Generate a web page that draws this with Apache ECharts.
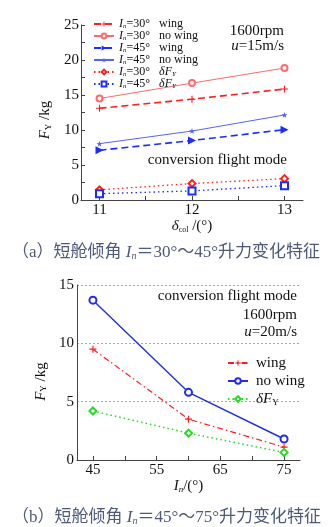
<!DOCTYPE html>
<html><head><meta charset="utf-8">
<script src="https://cdn.jsdelivr.net/npm/echarts@6/dist/echarts.min.js"></script>
<style>html,body{margin:0;padding:0;background:#fff}#c{width:331px;height:527px}</style>
</head><body><div id="c"></div>
<script>
// ---- chart (a) data ----
const deltaCol = [11, 12, 13];
const in30Wing = [13.1, 14.4, 15.85];
const in30NoWing = [14.5, 16.7, 18.85];
const in45Wing = [7.1, 8.5, 10.05];
const in45NoWing = [8.05, 9.85, 12.15];
const in30Delta = [1.45, 2.35, 3.05];
const in45Delta = [0.9, 1.3, 2.05];
const aXLabels = [11, 12, 13];
const aXTicks = [11, 11.5, 12, 12.5, 13];
const aYTicks = [0, 2.5, 5, 7.5, 10, 12.5, 15, 17.5, 20, 22.5, 25];

// ---- chart (b) data ----
const inAngle = [45, 60, 75];
const bWing = [9.5, 3.5, 1.1];
const bNoWing = [13.7, 5.8, 1.8];
const bDelta = [4.2, 2.3, 0.65];
const bXLabels = [45, 55, 65, 75];
const bXTicks = [45, 50, 55, 60, 65, 70, 75];

const SERIF = '"Liberation Serif","Times New Roman",serif';
const CAPF = '"Liberation Serif","Noto Sans CJK SC",serif';
const pair = (xs, ys) => xs.map((x, i) => [x, ys[i]]);
const PLUS = 'path://M0,4.2H10V5.8H0ZM4.2,0H5.8V10H4.2Z';
const STAR = 'path://M5,0L6.2,3.8L10,3.8L7,6.2L8.1,10L5,7.6L1.9,10L3,6.2L0,3.8L3.8,3.8Z';

const legA = {
  a30w: '{i|I}{s|n}{t|=30°}{w|wing}',
  a30n: '{i|I}{s|n}{t|=30°}{w|no wing}',
  a45w: '{i|I}{s|n}{t|=45°}{w|wing}',
  a45n: '{i|I}{s|n}{t|=45°}{w|no wing}',
  a30d: '{i|I}{s|n}{t|=30°}{wi|δF}{s|Y}',
  a45d: '{i|I}{s|n}{t|=45°}{wi|δF}{s|Y}'
};
const legB = {
  bw: 'wing',
  bn: 'no wing',
  bd: '{i|δF}{s|Y}'
};

const axisCommon = {
  axisLine: {show: true, lineStyle: {color: '#444', width: 1}},
  splitLine: {show: false}
};

const chart = echarts.init(document.getElementById('c'));
chart.setOption({
  animation: false,
  backgroundColor: '#fff',
  grid: [
    {left: 81, right: 28, top: 25, height: 175},
    {left: 77, right: 31, top: 285, height: 175}
  ],
  xAxis: [
    Object.assign({}, axisCommon, {
      gridIndex: 0, type: 'value', min: 10.8, max: 13.2,
      axisTick: {show: true, inside: true, length: 4, customValues: aXTicks, lineStyle: {color: '#444'}},
      axisLabel: {customValues: aXLabels, color: '#111', fontFamily: SERIF, fontSize: 15, margin: 3},
      name: '{i|δ}{s|col} /(°)', nameLocation: 'middle', nameGap: 14,
      nameTextStyle: {color: '#111', fontFamily: SERIF, fontSize: 15,
        rich: {i: {fontStyle: 'italic', fontSize: 15, fontFamily: SERIF}, s: {fontSize: 8, fontFamily: SERIF, verticalAlign: 'bottom', lineHeight: 12}}}
    }),
    Object.assign({}, axisCommon, {
      gridIndex: 1, type: 'value', min: 42.5, max: 77.5,
      axisTick: {show: true, inside: true, length: 4, customValues: bXTicks, lineStyle: {color: '#444'}},
      axisLabel: {customValues: bXLabels, color: '#111', fontFamily: SERIF, fontSize: 15, margin: 3},
      name: '{i|I}{s|n}/(°)', nameLocation: 'middle', nameGap: 16,
      nameTextStyle: {color: '#111', fontFamily: SERIF, fontSize: 15,
        rich: {i: {fontStyle: 'italic', fontSize: 15, fontFamily: SERIF}, s: {fontStyle: 'italic', fontSize: 9, fontFamily: SERIF, verticalAlign: 'bottom', lineHeight: 12}}}
    })
  ],
  yAxis: [
    Object.assign({}, axisCommon, {
      gridIndex: 0, type: 'value', min: 0, max: 25, interval: 5,
      axisTick: {show: true, inside: true, length: 4, customValues: aYTicks, lineStyle: {color: '#444'}},
      axisLabel: {color: '#111', fontFamily: SERIF, fontSize: 15, margin: 2},
      name: '{i|F}{s|Y} /kg', nameLocation: 'middle', nameGap: 28,
      nameTextStyle: {color: '#111', fontFamily: SERIF, fontSize: 15, padding: [0, 15, 0, 0],
        rich: {i: {fontStyle: 'italic', fontSize: 15, fontFamily: SERIF}, s: {fontSize: 9, fontFamily: SERIF, verticalAlign: 'bottom', lineHeight: 12}}}
    }),
    Object.assign({}, axisCommon, {
      gridIndex: 1, type: 'value', min: 0, max: 15, interval: 5,
      axisTick: {show: false},
      axisLabel: {color: '#111', fontFamily: SERIF, fontSize: 15, margin: 3},
      splitLine: {show: true, lineStyle: {color: '#aaa', type: [2, 2], width: 1}},
      name: '{i|F}{s|Y} /kg', nameLocation: 'middle', nameGap: 28,
      nameTextStyle: {color: '#111', fontFamily: SERIF, fontSize: 15, padding: [0, 18, 0, 0],
        rich: {i: {fontStyle: 'italic', fontSize: 15, fontFamily: SERIF}, s: {fontSize: 9, fontFamily: SERIF, verticalAlign: 'bottom', lineHeight: 12}}}
    })
  ],
  legend: [
    {
      left: 88, top: 13, orient: 'vertical', itemWidth: 20, itemHeight: 6, itemGap: 0,
      data: ['a30w', 'a30n', 'a45w', 'a45n', 'a30d', 'a45d'],
      formatter: n => legA[n],
      textStyle: {color: '#111', fontFamily: SERIF, fontSize: 12, lineHeight: 12,
        rich: {
          i: {fontStyle: 'italic', fontSize: 12, fontFamily: SERIF},
          s: {fontStyle: 'italic', fontSize: 7, fontFamily: SERIF, verticalAlign: 'bottom', lineHeight: 9},
          t: {fontSize: 12, fontFamily: SERIF},
          w: {fontSize: 12, fontFamily: SERIF, padding: [0, 0, 0, 9]},
          wi: {fontSize: 12, fontStyle: 'italic', fontFamily: SERIF, padding: [0, 0, 0, 9]}
        }}
    },
    {
      left: 222, top: 350, orient: 'vertical', itemWidth: 20, itemHeight: 7, itemGap: 2,
      data: ['bw', 'bn', 'bd'],
      formatter: n => legB[n],
      textStyle: {color: '#111', fontFamily: SERIF, fontSize: 15, lineHeight: 16, padding: [0, 0, 0, 3],
        rich: {
          i: {fontStyle: 'italic', fontSize: 15, fontFamily: SERIF},
          s: {fontSize: 9, fontFamily: SERIF, verticalAlign: 'bottom', lineHeight: 12}
        }}
    }
  ],
  series: [
    {name: 'a30w', type: 'line', xAxisIndex: 0, yAxisIndex: 0, data: pair(deltaCol, in30Wing),
      symbol: PLUS, symbolSize: 7, color: '#ff1f1f', itemStyle: {color: '#ff1f1f'},
      lineStyle: {color: '#ff1f1f', width: 1.6, type: [7, 4]}},
    {name: 'a30n', type: 'line', xAxisIndex: 0, yAxisIndex: 0, data: pair(deltaCol, in30NoWing),
      symbol: 'emptyCircle', symbolSize: 6, color: '#ff6a6a', itemStyle: {color: '#ff6a6a', borderWidth: 1},
      lineStyle: {color: '#ff6a6a', width: 1}},
    {name: 'a45w', type: 'line', xAxisIndex: 0, yAxisIndex: 0, data: pair(deltaCol, in45Wing),
      symbol: 'triangle', symbolRotate: -90, symbolSize: 8, color: '#1a2cff', itemStyle: {color: '#1a2cff'},
      lineStyle: {color: '#1a2cff', width: 1.6, type: [7, 4]}},
    {name: 'a45n', type: 'line', xAxisIndex: 0, yAxisIndex: 0, data: pair(deltaCol, in45NoWing),
      symbol: STAR, symbolSize: 6, color: '#5563ff', itemStyle: {color: '#5563ff'},
      lineStyle: {color: '#5563ff', width: 1}},
    {name: 'a30d', type: 'line', xAxisIndex: 0, yAxisIndex: 0, data: pair(deltaCol, in30Delta),
      symbol: 'emptyDiamond', symbolSize: 7, color: '#ff1f1f', itemStyle: {color: '#ff1f1f', borderWidth: 1.5},
      lineStyle: {color: '#ff1f1f', width: 1.3, type: [1.5, 3]}},
    {name: 'a45d', type: 'line', xAxisIndex: 0, yAxisIndex: 0, data: pair(deltaCol, in45Delta),
      symbol: 'emptyRect', symbolSize: 7, color: '#1a2cff', itemStyle: {color: '#1a2cff', borderWidth: 1.5},
      lineStyle: {color: '#1a2cff', width: 1.3, type: [1.5, 3]}},

    {name: 'bw', type: 'line', xAxisIndex: 1, yAxisIndex: 1, data: pair(inAngle, bWing),
      symbol: PLUS, symbolSize: 7, color: '#ff1a1a', itemStyle: {color: '#ff1a1a'},
      lineStyle: {color: '#ff1a1a', width: 1.2, type: [6, 3, 1.5, 3]}},
    {name: 'bn', type: 'line', xAxisIndex: 1, yAxisIndex: 1, data: pair(inAngle, bNoWing),
      symbol: 'emptyCircle', symbolSize: 7, color: '#1f2fe8', itemStyle: {color: '#1f2fe8', borderWidth: 1.5},
      lineStyle: {color: '#1f2fe8', width: 1.4}},
    {name: 'bd', type: 'line', xAxisIndex: 1, yAxisIndex: 1, data: pair(inAngle, bDelta),
      symbol: 'emptyDiamond', symbolSize: 7, color: '#22dd22', itemStyle: {color: '#22dd22', borderWidth: 1.5},
      lineStyle: {color: '#22dd22', width: 1.5, type: [1.5, 3]}}
  ],
  graphic: [
    {type: 'text', right: 47, top: 24, style: {text: '1600rpm', font: '15px ' + SERIF, fill: '#111'}},
    {type: 'text', right: 47, top: 39, style: {text: '{i|u}=15m/s', font: '15px ' + SERIF, fill: '#111',
      rich: {i: {fontStyle: 'italic', fontSize: 15, fontFamily: SERIF}}}},
    {type: 'text', right: 44, top: 153, style: {text: 'conversion flight mode', font: '15px ' + SERIF, fill: '#111'}},
    {type: 'text', right: 34, top: 289, style: {text: 'conversion flight mode', font: '15px ' + SERIF, fill: '#111'}},
    {type: 'text', right: 34, top: 308, style: {text: '1600rpm', font: '15px ' + SERIF, fill: '#111'}},
    {type: 'text', right: 34, top: 325, style: {text: '{i|u}=20m/s', font: '15px ' + SERIF, fill: '#111',
      rich: {i: {fontStyle: 'italic', fontSize: 15, fontFamily: SERIF}}}},
    {type: 'text', left: 12, top: 244, style: {
      text: '（a）短舱倾角 {i|I}{s|n}＝30°～45°升力变化特征', font: '17px ' + CAPF, fill: '#4d5a7a',
      rich: {i: {fontStyle: 'italic', fontSize: 17, fontFamily: SERIF, fill: '#4d5a7a'},
             s: {fontStyle: 'italic', fontSize: 10, fontFamily: SERIF, fill: '#4d5a7a', verticalAlign: 'bottom', lineHeight: 13}}}},
    {type: 'text', left: 12, top: 509, style: {
      text: '（b）短舱倾角 {i|I}{s|n}＝45°～75°升力变化特征', font: '17px ' + CAPF, fill: '#4d5a7a',
      rich: {i: {fontStyle: 'italic', fontSize: 17, fontFamily: SERIF, fill: '#4d5a7a'},
             s: {fontStyle: 'italic', fontSize: 10, fontFamily: SERIF, fill: '#4d5a7a', verticalAlign: 'bottom', lineHeight: 13}}}}
  ]
});
</script></body></html>
